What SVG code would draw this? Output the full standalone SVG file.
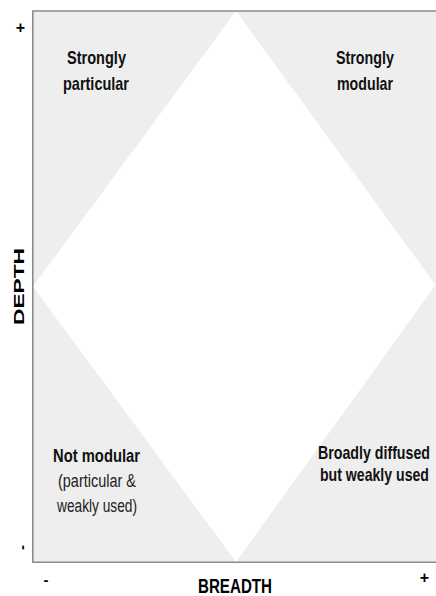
<svg xmlns="http://www.w3.org/2000/svg" width="436" height="596" viewBox="0 0 436 596">
<style>
.b{font-family:"Liberation Sans",Arial,sans-serif;font-weight:bold;font-size:19px;fill:#111;text-anchor:middle}
.r{font-family:"Liberation Sans",Arial,sans-serif;font-size:18px;fill:#222;text-anchor:middle}
.ax{font-family:"Liberation Sans",Arial,sans-serif;font-weight:bold;fill:#000;text-anchor:middle}
.frame{stroke:#8c8c8c;stroke-width:1.6;fill:none}
</style>
<rect width="436" height="596" fill="#fff"/>
<g id="field">
<rect x="33" y="11" width="403" height="551" fill="#eeeeee"/>
<polygon points="236,11 435.5,285 236,562 33,286.5" fill="#fff"/>
<polyline class="frame" points="436,11 32.8,11 32.8,562.3 436,562.3"/>
</g>
<g id="q-top-left">
<text class="b" x="96.5" y="64" textLength="59" lengthAdjust="spacingAndGlyphs">Strongly</text>
<text class="b" x="96" y="90" textLength="66" lengthAdjust="spacingAndGlyphs">particular</text>
</g>
<g id="q-top-right">
<text class="b" x="365" y="64" textLength="58" lengthAdjust="spacingAndGlyphs">Strongly</text>
<text class="b" x="365" y="90" textLength="56" lengthAdjust="spacingAndGlyphs">modular</text>
</g>
<g id="q-bottom-left">
<text class="b" x="96.5" y="462" textLength="87" lengthAdjust="spacingAndGlyphs">Not modular</text>
<text class="r" x="97" y="487" textLength="78" lengthAdjust="spacingAndGlyphs">(particular &amp;</text>
<text class="r" x="97" y="512" textLength="80" lengthAdjust="spacingAndGlyphs">weakly used)</text>
</g>
<g id="q-bottom-right">
<text class="b" x="374" y="459" textLength="112" lengthAdjust="spacingAndGlyphs">Broadly diffused</text>
<text class="b" x="374.5" y="481" textLength="109" lengthAdjust="spacingAndGlyphs">but weakly used</text>
</g>
<g id="axis-x">
<text class="ax" x="235" y="593" font-size="20" textLength="74" lengthAdjust="spacingAndGlyphs">BREADTH</text>
<text class="ax" x="46" y="585" font-size="15">-</text>
<text class="ax" x="424.5" y="582.5" font-size="16">+</text>
</g>
<g id="axis-y">
<text class="ax" transform="translate(24,286.5) rotate(-90)" x="0" y="0" font-size="15.5" textLength="77" lengthAdjust="spacingAndGlyphs">DEPTH</text>
<text class="ax" x="20.5" y="33" font-size="16">+</text>
<text class="ax" transform="translate(26.5,547.5) rotate(-90)" x="0" y="0" font-size="15">-</text>
</g>
</svg>
